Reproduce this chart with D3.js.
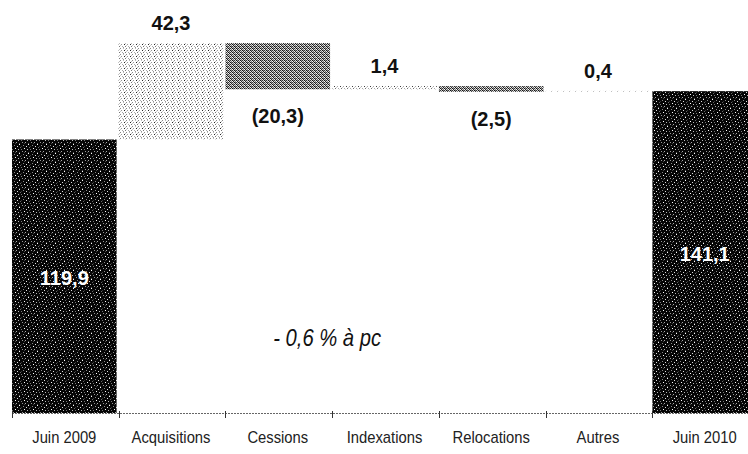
<!DOCTYPE html>
<html>
<head>
<meta charset="utf-8">
<script src="https://cdn.jsdelivr.net/npm/d3@7"></script>
<style>
  html, body { margin: 0; padding: 0; background: #fff; }
  svg { display: block; }
</style>
</head>
<body>
<svg id="chart" width="748" height="454"></svg>
<script>
// ---- data ----
const categories = ["Juin 2009", "Acquisitions", "Cessions", "Indexations", "Relocations", "Autres", "Juin 2010"];
const values = [119.9, 42.3, -20.3, 1.4, -2.5, 0.4, 141.1];
const kinds = ["total", "delta", "delta", "delta", "delta", "delta", "total"];
const annotation = "- 0,6 % à pc";

// ---- layout ----
const W = 748, H = 454;
const svg = d3.select("#chart");
const baseY = 413;

const x = d3.scaleBand().domain(categories).range([12, 757]).paddingInner(0.02).paddingOuter(0);
const y = d3.scaleLinear().domain([0, 180]).range([baseY, baseY - 180 * 2.281]);

// patterns
const defs = svg.append("defs");
function pattern(id, size, bg, dots) {
  const p = defs.append("pattern").attr("id", id).attr("patternUnits", "userSpaceOnUse")
    .attr("width", size).attr("height", size);
  p.append("rect").attr("width", size).attr("height", size).attr("fill", bg);
  dots.forEach(d => p.append("rect").attr("x", d[0]).attr("y", d[1]).attr("width", 1).attr("height", 1).attr("fill", d[2]));
}
pattern("pDark", 9, "#050505", [
  [1,0,"#fff"],[5,1,"#888"],[8,2,"#ddd"],[2,3,"#666"],[0,5,"#bbb"],[6,4,"#fff"],[4,7,"#999"],[1,8,"#555"],[7,7,"#aaa"],[3,2,"#333"],[6,8,"#444"],[3,5,"#777"]
]);
pattern("pLight", 6, "#ffffff", [
  [0,0,"#888"],[3,0,"#bbb"],[1,2,"#999"],[4,2,"#222"],[2,4,"#aaa"],[5,4,"#777"],[0,3,"#ccc"],[5,1,"#bbb"],[3,5,"#999"]
]);
pattern("pMid", 4, "#d8d8d8", [
  [0,0,"#111"],[2,0,"#333"],[1,1,"#222"],[3,1,"#777"],[0,2,"#333"],[2,2,"#111"],[1,3,"#666"],[3,3,"#222"],[1,0,"#999"],[3,2,"#888"],[0,1,"#fff"],[2,3,"#eee"]
]);

// waterfall geometry
let run = 0;
const bars = categories.map((c, i) => {
  let lo, hi;
  if (kinds[i] === "total") { lo = 0; hi = values[i]; run = values[i]; }
  else { const s = run; run = s + values[i]; lo = Math.min(s, run); hi = Math.max(s, run); }
  return { c, v: values[i], kind: kinds[i], lo, hi };
});

function fillFor(d) {
  if (d.kind === "total") return "url(#pDark)";
  return d.v >= 0 ? "url(#pLight)" : "url(#pMid)";
}

svg.append("g").selectAll("rect").data(bars).join("rect")
  .attr("x", d => x(d.c))
  .attr("width", x.bandwidth())
  .attr("y", d => y(d.hi))
  .attr("height", d => Math.max(1, y(d.lo) - y(d.hi)))
  .attr("fill", fillFor);

// axis
const ax = svg.append("g");
ax.append("line").attr("x1", 12).attr("x2", W).attr("y1", baseY + 0.5).attr("y2", baseY + 0.5)
  .attr("stroke", "#666").attr("stroke-dasharray", "2,1");
const step = x.step();
d3.range(categories.length).forEach(i => {
  const tx = Math.round(12 + i * step) + 0.5;
  ax.append("line").attr("x1", tx).attr("x2", tx).attr("y1", baseY - 2).attr("y2", baseY + 5)
    .attr("stroke", "#333").attr("stroke-width", 1);
});
ax.selectAll("text.cat").data(categories).join("text")
  .attr("class", "cat")
  .attr("transform", d => `translate(${x(d) + x.bandwidth() / 2},443) scale(0.87,1)`)
  .attr("text-anchor", "middle")
  .attr("font-family", "'Liberation Sans', Arial, sans-serif")
  .attr("font-size", 17)
  .attr("fill", "#222")
  .text(d => d);

// value labels
const fmt = v => {
  const s = d3.format(".1f")(Math.abs(v)).replace(".", ",");
  return v < 0 ? "(" + s + ")" : s;
};
svg.append("g").selectAll("text").data(bars).join("text")
  .attr("x", d => x(d.c) + x.bandwidth() / 2)
  .attr("y", d => d.kind === "total" ? (y(d.hi) + y(0)) / 2 + 9
                 : d.v >= 0 ? y(d.hi) - 13 : y(d.lo) + 34)
  .attr("text-anchor", "middle")
  .attr("font-family", "'Liberation Sans', Arial, sans-serif")
  .attr("font-weight", "bold")
  .attr("font-size", 20)
  .attr("fill", d => d.kind === "total" ? "#fff" : "#111")
  .text(d => fmt(d.v));

// annotation
svg.append("text")
  .attr("transform", `translate(${(x("Indexations") + x("Cessions") + x.bandwidth()) / 2 - 4},346) scale(0.88,1)`)
  .attr("text-anchor", "middle")
  .attr("font-family", "'Liberation Sans', Arial, sans-serif")
  .attr("font-style", "italic")
  .attr("font-size", 23)
  .attr("fill", "#111")
  .text(annotation);
</script>
</body>
</html>
